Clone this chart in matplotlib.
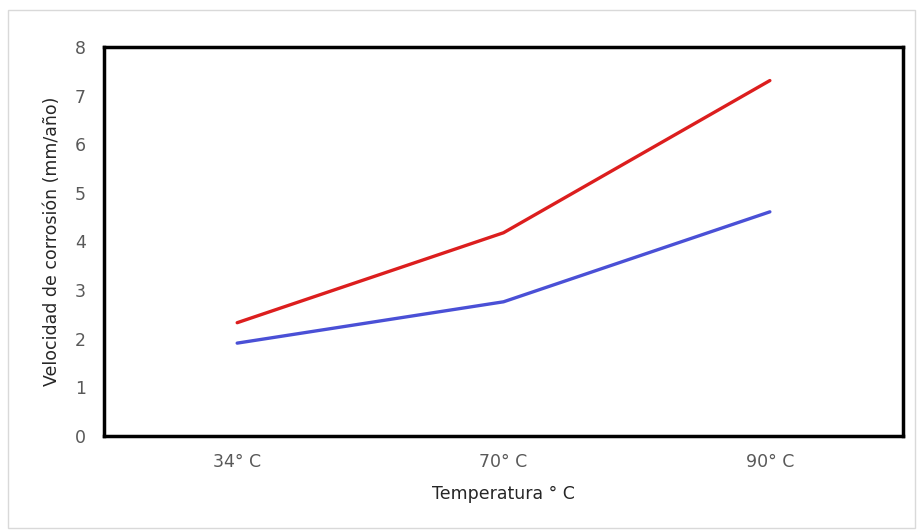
import numpy as np
import matplotlib.pyplot as plt
from matplotlib.patches import Rectangle

temperaturas = ["34° C", "70° C", "90° C"]
serie_roja = [2.33, 4.18, 7.31]
serie_azul = [1.91, 2.76, 4.61]

plt.rcParams["font.family"] = ["DejaVu Sans"]

fig = plt.figure(figsize=(9.18, 5.31), dpi=100)
ax = fig.add_axes([0.1133, 0.1789, 0.8704, 0.7326])

# borde del área del gráfico
fig.patches.append(Rectangle((0.009, 0.006), 0.988, 0.975, transform=fig.transFigure,
                             fill=False, edgecolor="#d9d9d9", linewidth=1))

x = np.arange(len(temperaturas))
ax.plot(x, serie_roja, color="#dc1e1e", linewidth=2.4, solid_capstyle="round")
ax.plot(x, serie_azul, color="#4a50d6", linewidth=2.4, solid_capstyle="round")

ax.set_xlim(-0.5, 2.5)
ax.set_ylim(0, 8)
ax.set_yticks(range(0, 9))
ax.set_xticks(x)
ax.set_xticklabels(temperaturas)
ax.tick_params(length=0, labelsize=12.5, colors="#595959")
ax.tick_params(axis="y", pad=13)
ax.tick_params(axis="x", pad=12)

for s in ax.spines.values():
    s.set_color("black")
    s.set_linewidth(2.5)

ax.set_xlabel("Temperatura ° C", fontsize=12.5, color="#262626", labelpad=10)
ax.set_ylabel("Velocidad de corrosión (mm/año)", fontsize=12.5, color="#262626", labelpad=10)

fig.savefig("out.png", dpi=100)
